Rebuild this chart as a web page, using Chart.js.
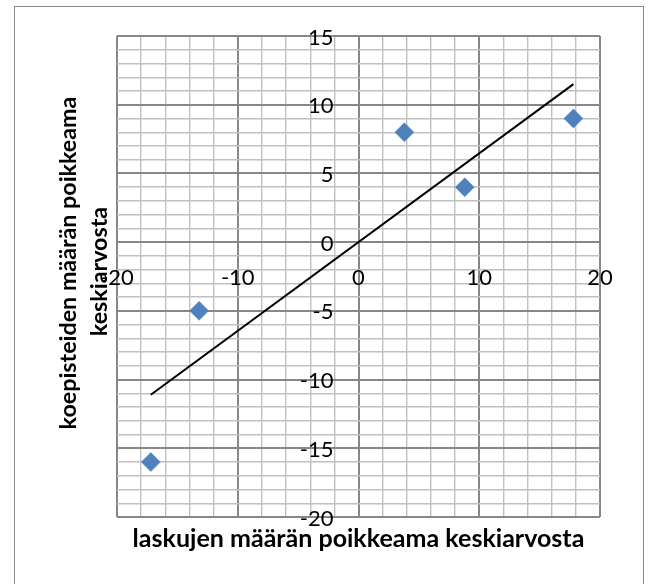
<!DOCTYPE html>
<html>
<head>
<meta charset="utf-8">
<script src="https://cdn.jsdelivr.net/npm/chart.js@4.4.1/dist/chart.umd.min.js"></script>
<style>
  html, body { margin: 0; padding: 0; background: #fff; }
  #wrap { position: relative; width: 648px; height: 584px; }
  canvas { display: block; }
</style>
</head>
<body>
<div id="wrap"><canvas id="c" width="648" height="584"></canvas></div>
<script>
// ---- data ----
const pointX = [-17.2, -13.2, 3.8, 8.8, 17.8];
const pointY = [-16, -5, 8, 4, 9];
const trendX = [-17.2, 17.8];
const trendY = [-11.1, 11.5];
const xTickLabels = [-20, -10, 0, 10, 20];
const yTickLabels = [15, 10, 5, 0, -5, -10, -15, -20];
const xAxisTitle = 'laskujen määrän poikkeama keskiarvosta';
const yAxisTitleLines = ['koepisteiden määrän poikkeama', 'keskiarvosta'];

const MAJOR = '#878787', MINOR = '#c0c0c0';

// draw text so that it spans a given width (reference text widths)
function fitFont(ctx, text, width, weight) {
  ctx.font = weight + ' 20px Lato';
  const w = ctx.measureText(text).width;
  const size = 20 * width / w;
  ctx.font = weight + ' ' + size.toFixed(2) + 'px Lato';
}

const decorPlugin = {
  id: 'decor',
  beforeDraw(chart) {
    const ctx = chart.ctx;
    ctx.save();
    ctx.fillStyle = '#fff';
    ctx.fillRect(0, 0, chart.width, chart.height);
    ctx.strokeStyle = '#8a8a8a';
    ctx.lineWidth = 1;
    ctx.strokeRect(14.5, 6.5, 629, 600);
    ctx.restore();
  },
  afterDraw(chart) {
    const ctx = chart.ctx;
    const xs = chart.scales.x, ys = chart.scales.y;
    const x0 = xs.getPixelForValue(0), y0 = ys.getPixelForValue(0);
    ctx.save();
    ctx.fillStyle = '#000';
    ctx.font = '22px Lato';
    ctx.textBaseline = 'alphabetic';
    ctx.textAlign = 'right';
    yTickLabels.forEach(v => {
      ctx.fillText(String(v), x0 - 25, ys.getPixelForValue(v) + 8.5);
    });
    ctx.textAlign = 'center';
    xTickLabels.forEach(v => {
      ctx.fillText(String(v), xs.getPixelForValue(v), y0 + 43);
    });
    // axis titles
    ctx.textAlign = 'center';
    fitFont(ctx, xAxisTitle, 452, 'bold');
    ctx.fillText(xAxisTitle, 358.5, 547);
    fitFont(ctx, yAxisTitleLines[0], 333, 'bold');
    ctx.save();
    ctx.translate(76, 263);
    ctx.rotate(-Math.PI / 2);
    ctx.fillText(yAxisTitleLines[0], 0, 0);
    ctx.fillText(yAxisTitleLines[1], -8.5, 31);
    ctx.restore();
    ctx.restore();
  }
};

function gridColor(step) {
  return c => (c.tick && Math.abs(c.tick.value % step) < 1e-9) ? MAJOR : MINOR;
}
function gridWidth(step) {
  return c => (c.tick && Math.abs(c.tick.value % step) < 1e-9) ? 2 : 1.4;
}

new Chart(document.getElementById('c'), {
  type: 'scatter',
  data: {
    datasets: [
      {
        label: 'trend',
        data: trendX.map((x, i) => ({ x: x, y: trendY[i] })),
        showLine: true,
        borderColor: '#000',
        borderWidth: 2,
        pointRadius: 0,
        fill: false
      },
      {
        label: 'points',
        data: pointX.map((x, i) => ({ x: x, y: pointY[i] })),
        pointStyle: 'rectRot',
        pointRadius: 9.5,
        backgroundColor: '#4f81bd',
        borderColor: '#4f81bd',
        borderWidth: 0.5
      }
    ]
  },
  options: {
    responsive: false,
    animation: false,
    layout: { autoPadding: false, padding: { left: 117, top: 36, right: 48, bottom: 67 } },
    plugins: { legend: { display: false }, tooltip: { enabled: false } },
    scales: {
      x: {
        type: 'linear', min: -20, max: 20,
        ticks: { stepSize: 2, display: false },
        grid: { color: gridColor(10), lineWidth: gridWidth(10), drawTicks: false },
        border: { display: false }
      },
      y: {
        type: 'linear', min: -20, max: 15,
        ticks: { stepSize: 1, display: false },
        grid: { color: gridColor(5), lineWidth: gridWidth(5), drawTicks: false },
        border: { display: false }
      }
    }
  },
  plugins: [decorPlugin]
});
</script>
</body>
</html>
